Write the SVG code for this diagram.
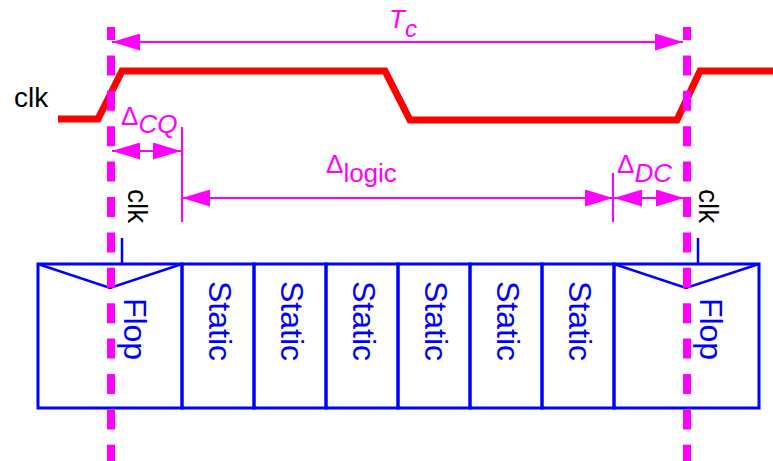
<svg xmlns="http://www.w3.org/2000/svg" width="773" height="461" viewBox="0 0 773 461">
  <style>
    .box{fill:none;stroke:#0000FF;stroke-width:3}
    .thin{fill:none;stroke:#0000FF;stroke-width:2.5}
    .lbl{font-family:"Liberation Sans",Arial,sans-serif;font-size:32px;fill:#0000FF}
    .blk{font-family:"Liberation Sans",Arial,sans-serif;font-size:28px;fill:#000000}
    .mag{font-family:"Liberation Sans",Arial,sans-serif;font-size:26px;fill:#FF00FF}
    .dim{stroke:#FF00FF;stroke-width:2;fill:none}
    .dash{stroke:#FF00FF;stroke-width:8;fill:none;stroke-dasharray:20 15.4;stroke-dashoffset:7}
  </style>
  <defs>
    <marker id="ah" markerUnits="userSpaceOnUse" markerWidth="28" markerHeight="17" refX="28" refY="8.5" orient="auto-start-reverse">
      <path d="M0,0 L28,8.5 L0,17 Z" fill="#FF00FF"/>
    </marker>
  </defs>
  <rect width="773" height="461" fill="#FFFFFF"/>

  <!-- clock waveform -->
  <g id="clk-wave">
    <text class="blk" x="14" y="107">clk</text>
    <polyline points="58,119 98,119 122,71 385,71 410,120 677,120 700,71 773,71" fill="none" stroke="#FF0000" stroke-width="7"/>
  </g>

  <!-- nodes -->
  <g id="flop1">
    <rect class="box" x="38" y="264" width="144" height="144"/>
    <polyline class="thin" points="38,264 110,288 182,264"/>
    <line class="thin" x1="122" y1="238" x2="122" y2="264"/>
    <text class="blk" transform="translate(128,189) rotate(90)">clk</text>
    <text class="lbl" text-anchor="middle" transform="translate(124,329) rotate(90)">Flop</text>
  </g>
  <g id="static1">
    <rect class="box" x="182" y="264" width="72" height="144"/>
    <text class="lbl" text-anchor="middle" transform="translate(209,321) rotate(90)">Static</text>
  </g>
  <g id="static2">
    <rect class="box" x="254" y="264" width="72" height="144"/>
    <text class="lbl" text-anchor="middle" transform="translate(281,321) rotate(90)">Static</text>
  </g>
  <g id="static3">
    <rect class="box" x="326" y="264" width="72" height="144"/>
    <text class="lbl" text-anchor="middle" transform="translate(353,321) rotate(90)">Static</text>
  </g>
  <g id="static4">
    <rect class="box" x="398" y="264" width="72" height="144"/>
    <text class="lbl" text-anchor="middle" transform="translate(425,321) rotate(90)">Static</text>
  </g>
  <g id="static5">
    <rect class="box" x="470" y="264" width="72" height="144"/>
    <text class="lbl" text-anchor="middle" transform="translate(497,321) rotate(90)">Static</text>
  </g>
  <g id="static6">
    <rect class="box" x="542" y="264" width="72" height="144"/>
    <text class="lbl" text-anchor="middle" transform="translate(569,321) rotate(90)">Static</text>
  </g>
  <g id="flop2">
    <rect class="box" x="614" y="264" width="145" height="144"/>
    <polyline class="thin" points="614,264 686,288 759,264"/>
    <line class="thin" x1="698" y1="238" x2="698" y2="264"/>
    <text class="blk" transform="translate(699,189) rotate(90)">clk</text>
    <text class="lbl" text-anchor="middle" transform="translate(700,329) rotate(90)">Flop</text>
  </g>

  <!-- connectors / dimensions -->
  <g id="connectors">
    <line class="dim" x1="112" y1="42" x2="683" y2="42" marker-start="url(#ah)" marker-end="url(#ah)"/>
    <text class="mag" x="389" y="28" font-style="italic">T<tspan dy="9" font-size="24">c</tspan></text>

    <line class="dim" x1="182" y1="127" x2="182" y2="222"/>
    <line class="dim" x1="112" y1="151" x2="181" y2="151" marker-start="url(#ah)" marker-end="url(#ah)"/>
    <text class="mag" x="121" y="125">Δ<tspan dy="8" font-style="italic">CQ</tspan></text>

    <line class="dim" x1="182" y1="198" x2="613" y2="198" marker-start="url(#ah)" marker-end="url(#ah)"/>
    <text class="mag" x="326" y="173">Δ<tspan dy="9">logic</tspan></text>

    <line class="dim" x1="613" y1="173" x2="613" y2="222"/>
    <line class="dim" x1="614" y1="198" x2="684" y2="198" marker-start="url(#ah)" marker-end="url(#ah)"/>
    <text class="mag" x="617" y="173">Δ<tspan dy="9" font-style="italic">DC</tspan></text>
  </g>

  <!-- clock edge markers -->
  <g id="edges">
    <line class="dash" x1="111" y1="27" x2="111" y2="461"/>
    <line class="dash" x1="687" y1="27" x2="687" y2="461"/>
  </g>
</svg>
